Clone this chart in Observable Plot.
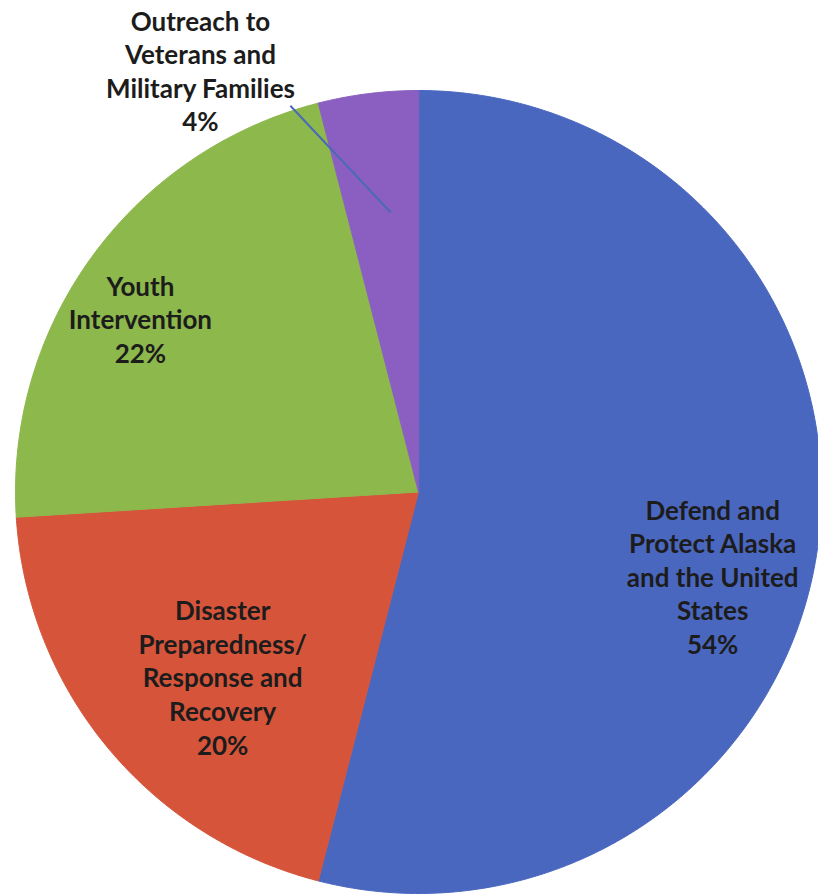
<!DOCTYPE html>
<html>
<head>
<meta charset="utf-8">
<script src="https://cdn.jsdelivr.net/npm/d3@7"></script>
<script src="https://cdn.jsdelivr.net/npm/@observablehq/plot@0.6"></script>
<style>
  html, body { margin: 0; padding: 0; background: #fff; }
  #chart svg { display: block; }
</style>
</head>
<body>
<div id="chart"></div>
<script>
// ---- data ----
const categories = [
  "Defend and Protect Alaska and the United States",
  "Disaster Preparedness/ Response and Recovery",
  "Youth Intervention",
  "Outreach to Veterans and Military Families"
];
const shares = [54, 20, 22, 4];
const labelTexts = [
  "Defend and\nProtect Alaska\nand the United\nStates\n54%",
  "Disaster\nPreparedness/\nResponse and\nRecovery\n20%",
  "Youth\nIntervention\n22%",
  "Outreach to\nVeterans and\nMilitary Families\n4%"
];
const colors = ["#4a67bf", "#d6553a", "#8cb84c", "#8b5fc1"];

// ---- layout (pie units, radius = 1) ----
const labelPos = [[0.730, -0.209], [-0.486, -0.460], [-0.690, 0.432], [-0.541, 1.050]];
const leader = {x1: -0.318, y1: 0.962, x2: -0.069, y2: 0.696};

// ---- build slice outlines from d3.pie angles ----
const arcs = d3.pie().sort(null).value(d => d)(shares);
const slicePts = [];
arcs.forEach((a, i) => {
  const cat = categories[i];
  slicePts.push({cat, x: 0, y: 0});
  const n = Math.max(4, Math.ceil((a.endAngle - a.startAngle) / (Math.PI / 360)));
  for (let k = 0; k <= n; k++) {
    const t = a.startAngle + (a.endAngle - a.startAngle) * k / n;
    slicePts.push({cat, x: Math.sin(t), y: Math.cos(t)});
  }
});
const labels = categories.map((c, i) => ({cat: c, text: labelTexts[i], x: labelPos[i][0], y: labelPos[i][1]}));

const chart = Plot.plot({
  width: 818,
  height: 896,
  margin: 0,
  style: {background: "#fff", fontFamily: "Lato, 'Open Sans', sans-serif"},
  x: {domain: [-1, 1], range: [15, 821], axis: null},
  y: {domain: [-1, 1], range: [893, 90], axis: null},
  color: {domain: categories, range: colors},
  marks: [
    Plot.line(slicePts, {x: "x", y: "y", z: "cat", fill: "cat", stroke: "cat", strokeWidth: 1, curve: "linear-closed"}),
    Plot.link([leader], {x1: "x1", y1: "y1", x2: "x2", y2: "y2", stroke: "#4a6ab8", strokeWidth: 2}),
    Plot.text(labels, {x: "x", y: "y", text: "text", fill: "#1c1c1c", fontSize: 26, fontWeight: "bold", lineHeight: 1.29, textAnchor: "middle", lineAnchor: "middle"})
  ]
});
document.getElementById("chart").appendChild(chart);
</script>
</body>
</html>
